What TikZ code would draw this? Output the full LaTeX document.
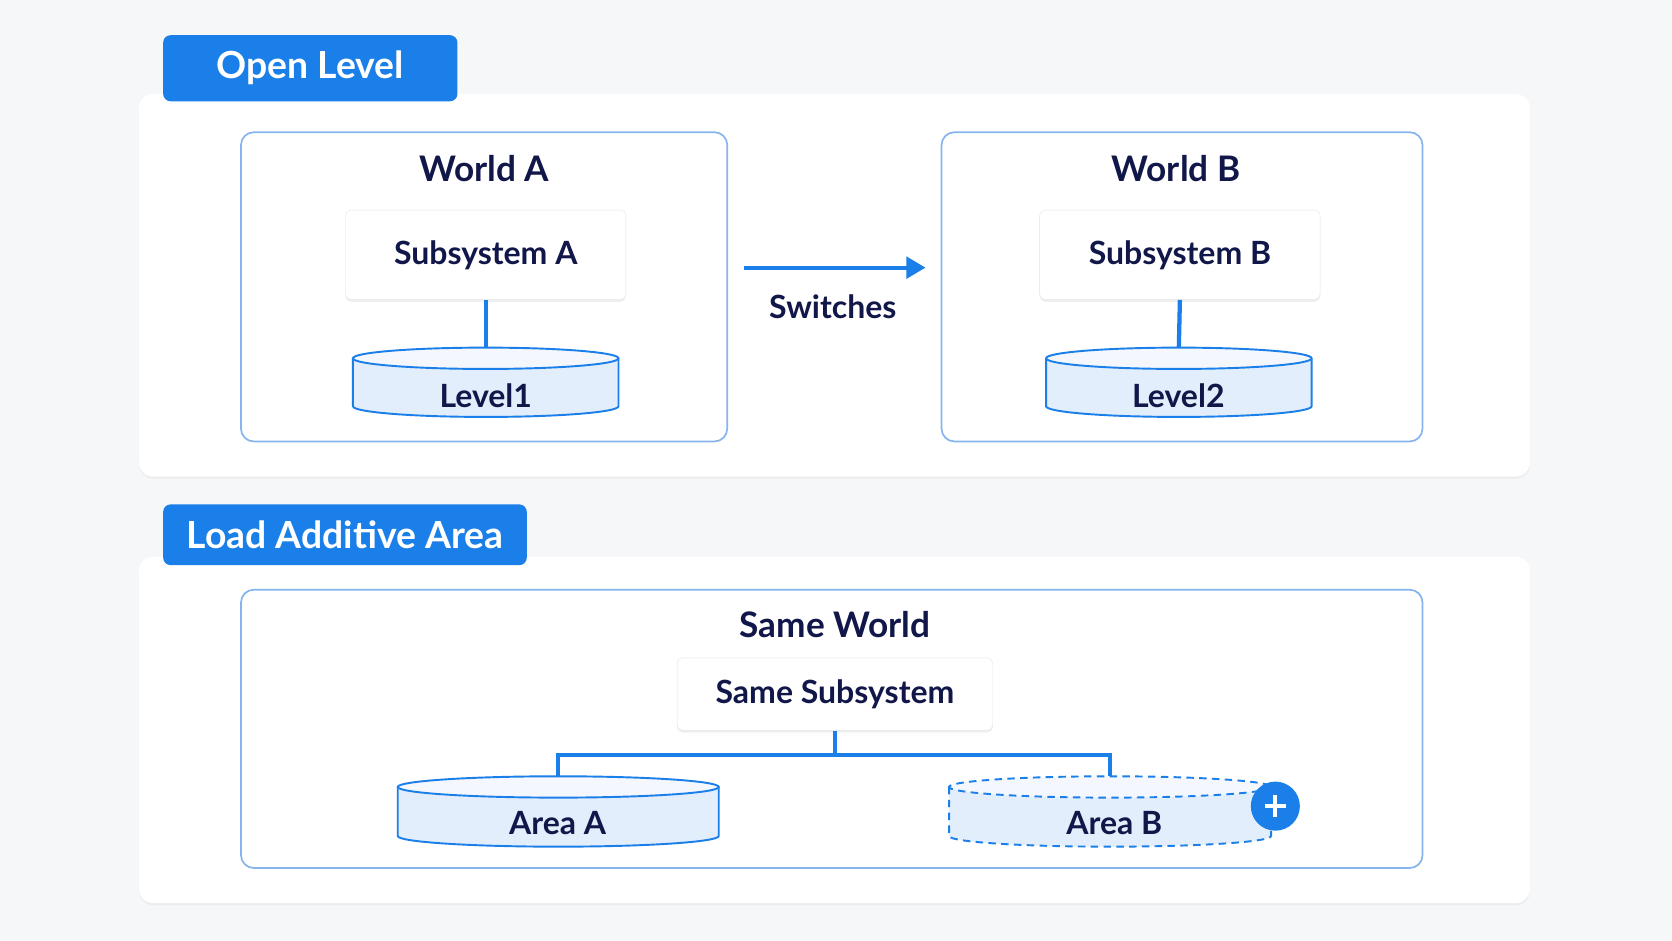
\documentclass[tikz,border=0pt]{standalone}
\usepackage{fontspec}
\setmainfont{Lato}
\usetikzlibrary{shadows,arrows.meta}
\definecolor{bg}{HTML}{F6F7F9}
\definecolor{blu}{HTML}{1A7FE8}
\definecolor{lblu}{HTML}{86B4EE}
\definecolor{ink}{HTML}{12174A}
\definecolor{cylf}{HTML}{E3EEFC}
\newcommand\mycyl[6]{% cx, ytop, ybot, rx, style, name
  \fill[cylf] (#1-#4,#2) -- (#1-#4,#3) arc[start angle=180,end angle=0,x radius=#4,y radius=10] -- (#1+#4,#2) -- cycle;
  \draw[#5] (#1-#4,#2) -- (#1-#4,#3) arc[start angle=180,end angle=0,x radius=#4,y radius=10] -- (#1+#4,#2);
  \draw[#5,fill=white!60!cylf] (#1,#2) ellipse[x radius=#4,y radius=10];
  \coordinate (#6) at (#1,#2-10);}
\begin{document}
\begin{tikzpicture}[x=1pt,y=-1pt,
  panel/.style={fill=white,rounded corners=14pt,drop shadow={opacity=0.08,shadow xshift=0pt,shadow yshift=-2pt}},
  tab/.style={fill=blu,rounded corners=7pt,text=white,font=\fontsize{35}{35}\selectfont\bfseries},
  world/.style={draw=lblu,line width=1.6pt,rounded corners=12pt},
  title/.style={text=ink,font=\fontsize{33}{33}\selectfont\bfseries},
  sub/.style={draw=black!10,fill=white,rounded corners=5pt,text=ink,font=\fontsize{30}{30}\selectfont\bfseries,drop shadow={opacity=0.12,shadow xshift=0pt,shadow yshift=-2pt}},
  lbl/.style={text=ink,font=\fontsize{30}{30}\selectfont\bfseries},
  cyl/.style={draw=blu,line width=1.8pt},
  dcyl/.style={draw=blu,line width=1.8pt,dash pattern=on 7pt off 5pt},
  conn/.style={draw=blu,line width=4pt}]
\fill[bg] (0,0) rectangle (1568,882);
\useasboundingbox (0,0) rectangle (1568,882);
% panel 1
\path[panel] (130,88) rectangle (1435,447);
\node[tab,minimum width=276pt,minimum height=62pt] (t1) at (291,64) {Open Level};
\draw[world] (226,124) rectangle (682,414);
\node[title] (wa) at (454,158) {World A};
\node[sub,minimum width=263pt,minimum height=84pt] (sa) at (455.5,239) {Subsystem A};
\mycyl{455.5}{336}{381}{124.5}{cyl}{l1top}
\node[lbl] (l1) at (455.5,371) {Level1};
\draw[conn] (sa.south) -- (l1top);
\draw[world] (883,124) rectangle (1334,414);
\node[title] (wb) at (1103,158) {World B};
\node[sub,minimum width=263pt,minimum height=84pt] (sb) at (1106.5,239) {Subsystem B};
\mycyl{1105.5}{336}{381}{124.5}{cyl}{l2top}
\node[lbl] (l2) at (1105,371) {Level2};
\draw[conn] (sb.south) -- (l2top);
\coordinate (as) at (698,251);
\coordinate (ae) at (868,251);
\draw[conn,-{Triangle[length=18pt,width=20pt]}] (as) -- (ae);
\node[lbl] (sw) at (781,288) {Switches};
% panel 2
\path[panel] (130,522) rectangle (1435,847);
\node[tab,minimum width=341pt,minimum height=57pt] (t2) at (323.5,501.5) {Load Additive Area};
\draw[world] (226,553) rectangle (1334,814);
\node[title] (sw2) at (783,586) {Same World};
\node[sub,minimum width=296pt,minimum height=68pt] (ss) at (783,651) {Same Subsystem};
\mycyl{523.5}{738}{784}{150.5}{cyl}{aatop}
\node[lbl] (aa) at (523,772) {Area A};
\mycyl{1041}{738}{784}{151}{dcyl}{abtop}
\node[lbl] (ab) at (1045,772) {Area B};
\coordinate (j) at (783,708);
\draw[conn,line width=3.5pt] (ss.south) -- (j);
\draw[conn,line width=3.5pt] (aatop) |- (j) -| (abtop);
\node[circle,fill=blu,minimum size=46pt,inner sep=0pt] (plus) at (1196,756) {};
\draw[white,line width=4pt] (plus.center) ++(-10,0) -- ++(20,0) (plus.center) ++(0,-10) -- ++(0,20);
\end{tikzpicture}
\end{document}
